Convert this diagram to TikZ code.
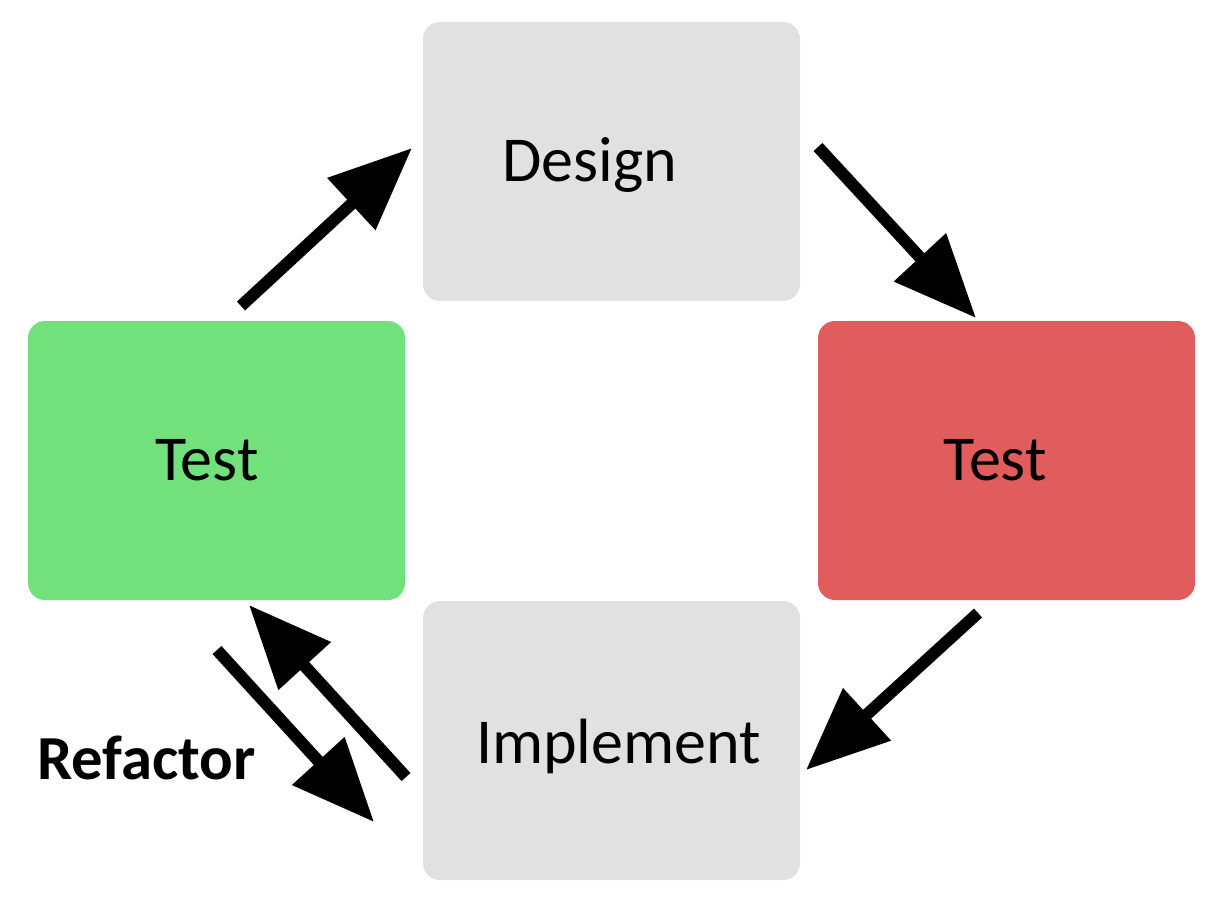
\documentclass[tikz,border=0pt]{standalone}
\usepackage{fontspec}
\setmainfont{Carlito}
\usetikzlibrary{arrows.meta}
\definecolor{boxgray}{HTML}{E1E1E1}
\definecolor{passgreen}{HTML}{72E07B}
\definecolor{failred}{HTML}{E15D5D}
\tikzset{
  stage/.style={rectangle, rounded corners=12.75pt, inner sep=0pt,
    minimum width=282.75pt, minimum height=209.25pt, draw=none},
  label/.style={anchor=base, inner sep=0pt, font=\fontsize{48}{58}\selectfont},
  flow/.style={line width=9pt, -{Triangle[length=62pt,width=51pt]}},
}
\begin{document}
\begin{tikzpicture}[x=0.75pt, y=-0.75pt]
  \useasboundingbox (0,0) rectangle (1220,908);

  % the four stages of the cycle
  \node[stage, fill=boxgray]   (design) at (611.5,161.5) {};
  \node[stage, fill=passgreen] (green)  at (216.5,460.5) {};
  \node[stage, fill=failred]   (red)    at (1006.5,460.5) {};
  \node[stage, fill=boxgray]   (impl)   at (611.5,740.5) {};

  % stage captions
  \node[label] (tdesign) at (589.5,181) {Design};
  \node[label] (tgreen)  at (207,480)   {Test};
  \node[label] (tred)    at (995,480)   {Test};
  \node[label] (timpl)   at (618.5,763) {Implement};
  \node[label, font=\fontsize{47}{56}\selectfont\bfseries]
       (refactor) at (146.5,779) {Refactor};

  % arrow end points
  \coordinate (a1s) at (241,306);  \coordinate (a1e) at (412,148);
  \coordinate (a2s) at (818,147);  \coordinate (a2e) at (976,318);
  \coordinate (a3s) at (978,613);  \coordinate (a3e) at (806,770);
  \coordinate (a4s) at (406,777);  \coordinate (a4e) at (249,605);
  \coordinate (a5s) at (217,650);  \coordinate (a5e) at (374,822);

  % the cycle
  \draw[flow] (a1s) -- (a1e);
  \draw[flow] (a2s) -- (a2e);
  \draw[flow] (a3s) -- (a3e);
  \draw[flow] (a4s) -- (a4e);
  \draw[flow] (a5s) -- (a5e);
\end{tikzpicture}
\end{document}
